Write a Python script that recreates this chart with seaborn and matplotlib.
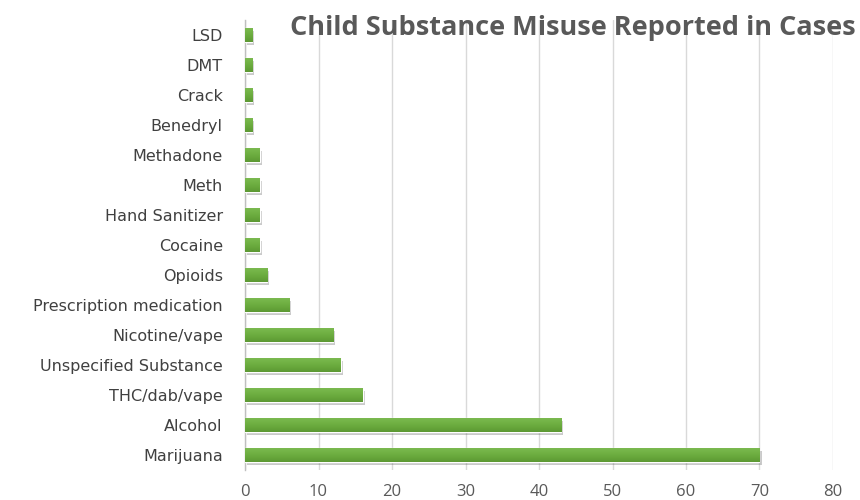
import numpy as np
import pandas as pd
import matplotlib
matplotlib.use("Agg")
import matplotlib.pyplot as plt
import matplotlib.patheffects as pe
import seaborn as sns

substances = ["LSD", "DMT", "Crack", "Benedryl", "Methadone", "Meth",
              "Hand Sanitizer", "Cocaine", "Opioids", "Prescription medication",
              "Nicotine/vape", "Unspecified Substance", "THC/dab/vape",
              "Alcohol", "Marijuana"]
cases = [1, 1, 1, 1, 2, 2, 2, 2, 3, 6, 12, 13, 16, 43, 70]
x_ticks = [0, 10, 20, 30, 40, 50, 60, 70, 80]

df = pd.DataFrame({"substance": substances, "cases": cases})

sns.set_theme(style="white")
plt.rcParams["font.family"] = ["Open Sans", "DejaVu Sans"]

fig = plt.figure(figsize=(8.6, 5.0), dpi=100)
ax = fig.add_axes([0.2849, 0.06, 0.6837, 0.90])

sns.barplot(data=df, x="cases", y="substance", orient="h", color="#6aab3c",
            width=0.47, saturation=1, ax=ax, zorder=3)

# vertical gradient fill and soft drop shadow on each bar
grad = np.linspace(0, 1, 64).reshape(-1, 1)
cmap = matplotlib.colors.LinearSegmentedColormap.from_list(
    "bar", ["#7dbb52", "#6dae40", "#5c9833"])
for bar in list(ax.patches):
    bar.set_path_effects([pe.SimplePatchShadow(offset=(1.5, -2), alpha=0.3,
                                               shadow_rgbFace="#505050"),
                          pe.Normal()])
    x0, y0 = bar.get_x(), bar.get_y()
    w, h = bar.get_width(), bar.get_height()
    im = ax.imshow(grad, cmap=cmap, aspect="auto", zorder=4,
                   extent=(x0, x0 + w, y0 + h, y0), interpolation="bicubic")
    im.set_clip_path(bar)

ax.set_xlim(0, 80)
ax.set_ylim(len(substances) - 0.5, -0.5)
ax.set_xticks(x_ticks)
ax.set_xticklabels([str(t) for t in x_ticks])
ax.xaxis.grid(True, color="#d9d9d9", linewidth=1, zorder=0)
ax.yaxis.grid(False)
ax.set_xlabel("")
ax.set_ylabel("")

for side in ["top", "right", "bottom"]:
    ax.spines[side].set_visible(False)
ax.spines["left"].set_color("#bfbfbf")
ax.spines["left"].set_linewidth(1)

ax.tick_params(axis="x", length=0, pad=10, labelsize=12, labelcolor="#595959")
ax.tick_params(axis="y", length=0, pad=16, labelcolor="#404040")
for lab in ax.get_yticklabels():
    lab.set_fontfamily(["DejaVu Sans"])
    lab.set_fontsize(11.5)

fig.text(0.995, 0.944, "Child Substance Misuse Reported in Cases",
         ha="right", va="center", fontsize=19.5, fontweight="bold",
         color="#595959")

fig.savefig("out.png", dpi=100, facecolor="white")
